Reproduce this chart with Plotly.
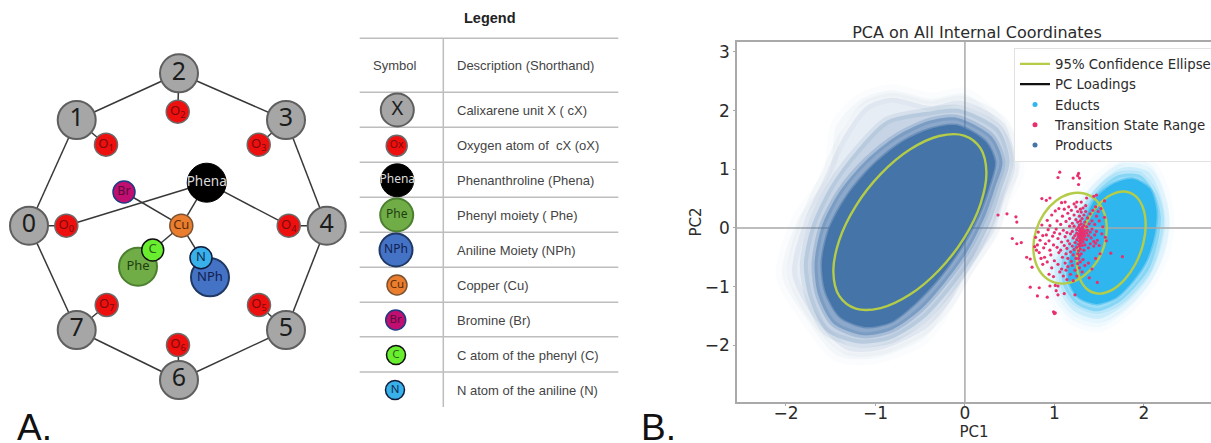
import plotly.graph_objects as go

# ---------- Panel B data (PC1, PC2) ----------
PRODUCTS_ELLIPSE_X = [0.24,0.175,-0.01,-0.288,-0.615,-0.942,-1.22,-1.405,-1.47,-1.405,-1.22,-0.942,-0.615,-0.288,-0.01,0.175,0.24]
PRODUCTS_ELLIPSE_Y = [0.95,1.358,1.575,1.567,1.336,0.917,0.373,-0.212,-0.75,-1.158,-1.375,-1.367,-1.136,-0.717,-0.173,0.412,0.95]
EDUCTS_ELLIPSE_X = [2.02,1.99,1.907,1.782,1.635,1.488,1.363,1.279,1.25,1.279,1.363,1.488,1.635,1.782,1.907,1.991,2.02]
EDUCTS_ELLIPSE_Y = [0.055,0.344,0.542,0.62,0.565,0.386,0.11,-0.22,-0.555,-0.844,-1.042,-1.12,-1.065,-0.886,-0.61,-0.28,0.055]
TS_ELLIPSE_X = [1.585,1.554,1.465,1.332,1.175,1.018,0.885,0.796,0.765,0.796,0.885,1.018,1.175,1.332,1.465,1.554,1.585]
TS_ELLIPSE_Y = [-0.012,0.266,0.476,0.587,0.583,0.463,0.246,-0.036,-0.338,-0.616,-0.826,-0.937,-0.933,-0.813,-0.596,-0.314,-0.012]

PRODUCTS_L1_X = [-0.824,-0.376,-0.01,0.275,0.519,0.60,0.437,0.275,-0.01,-0.213,-0.458,-1.027,-1.434,-1.80,-2.044,-1.882,-1.515,-1.434,-1.149,-0.824]
PRODUCTS_L1_Y = [2.347,2.205,2.29,1.977,1.466,0.955,0.443,-0.125,-0.807,-1.375,-1.886,-2.227,-2.17,-1.489,-0.807,0.102,0.955,1.75,2.205,2.347]
PRODUCTS_L2_X = [-0.04,0.44,0.56,0.44,0.33,0.05,-0.16,-0.44,-0.95,-1.32,-1.68,-1.93,-1.80,-1.56,-1.36,-1.10,-0.82,-0.38,-0.04]
PRODUCTS_L2_Y = [2.17,1.78,1.05,0.50,-0.05,-0.70,-1.25,-1.72,-2.08,-2.08,-1.55,-0.78,0.1,0.9,1.55,2.08,2.22,2.08,2.17]
PRODUCTS_L3_X = [-0.07,0.38,0.50,0.41,0.29,0.08,-0.19,-0.46,-0.83,-1.18,-1.55,-1.74,-1.80,-1.71,-1.50,-1.22,-0.87,-0.42,-0.07]
PRODUCTS_L3_Y = [2.03,1.68,1.14,0.66,0.12,-0.52,-1.10,-1.55,-1.90,-1.97,-1.76,-1.20,-0.62,0.05,0.72,1.30,1.83,1.98,2.03]
PRODUCTS_L4_X = [-0.09,0.30,0.42,0.34,0.22,0.02,-0.24,-0.50,-0.82,-1.14,-1.47,-1.64,-1.68,-1.60,-1.40,-1.10,-0.75,-0.39,-0.09]
PRODUCTS_L4_Y = [1.88,1.56,1.13,0.70,0.18,-0.42,-0.96,-1.40,-1.74,-1.83,-1.63,-1.14,-0.60,0.02,0.62,1.16,1.58,1.83,1.88]
PRODUCTS_CORE_X = [-0.09,0.234,0.336,0.275,0.153,-0.05,-0.295,-0.539,-0.824,-1.109,-1.393,-1.556,-1.597,-1.515,-1.312,-1.027,-0.702,-0.376,-0.09]
PRODUCTS_CORE_Y = [1.75,1.466,1.125,0.727,0.216,-0.352,-0.864,-1.261,-1.602,-1.688,-1.517,-1.091,-0.58,-0.011,0.557,1.068,1.466,1.693,1.75]

EDUCTS_L1_X = [1.546,1.806,2.067,2.216,2.29,2.235,2.067,1.806,1.508,1.21,0.987,0.931,1.024,1.21,1.546]
EDUCTS_L1_Y = [0.921,1.177,1.092,0.694,0.126,-0.442,-0.954,-1.408,-1.692,-1.579,-1.181,-0.726,-0.215,0.353,0.921]
EDUCTS_L2_X = [1.51,1.76,2.05,2.19,2.24,2.19,2.05,1.78,1.50,1.23,1.05,1.00,1.10,1.27,1.51]
EDUCTS_L2_Y = [0.76,1.03,0.96,0.55,0.10,-0.36,-0.86,-1.32,-1.55,-1.43,-1.07,-0.66,-0.22,0.28,0.76]
EDUCTS_L3_X = [1.49,1.71,1.96,2.12,2.19,2.16,2.05,1.74,1.48,1.25,1.10,1.08,1.18,1.30,1.49]
EDUCTS_L3_Y = [0.64,0.90,0.90,0.60,0.2,-0.22,-0.72,-1.25,-1.42,-1.30,-0.98,-0.60,-0.22,0.22,0.64]
EDUCTS_CORE_X = [1.471,1.657,1.881,2.067,2.141,2.123,2.03,1.881,1.695,1.471,1.266,1.155,1.166,1.248,1.341,1.471]
EDUCTS_CORE_Y = [0.524,0.751,0.836,0.666,0.296,-0.101,-0.556,-0.897,-1.181,-1.295,-1.181,-0.897,-0.556,-0.215,0.154,0.524]

TS_POINTS = [
 (1.06,.95),(1.04,.86),(1.27,.93),(1.26,.89),(1.28,.85),(1.21,.85),(1.27,.74),(.86,.50),(.91,.47),(.95,.51),(1.47,.56),(1.44,.54),(1.36,.51),(1.56,.46),(1.12,.44),(1.08,.43),(1.25,.44),(1.22,.41),(1.30,.44),(1.35,.38),
 (.37,.22),(.47,.24),(.57,.19),(.58,.10),(.53,-.18),(.58,-.27),(.63,-.25),(.69,-.50),(.73,-.53),(.75,-.67),(.73,-1.01),(.83,-1.02),(.81,-1.16),(.92,-1.18),(.95,-.99),(1.01,-.98),(1.04,-.99),(1.02,-1.07),(1.04,-1.14),(1.11,-1.12),(1.23,-1.14),(.99,-1.43),(1.01,-1.45),(1.0,-1.46),(1.76,-.49),(1.63,-.43),(1.48,-.93),(1.39,-.85),
 (.79,-.16),(.81,-.29),(.78,-.32),(.80,-.38),(.82,-.07),(.84,-.21),(.83,-.42),(.86,.05),(.87,-.13),(.88,-.34),(.85,-.52),(.89,-.50),(.87,-.62),(.92,-.58),(.90,-.27),(.91,-.12),(.93,-.03),(.92,.13),(.94,-.22),(.95,-.38),(.96,-.46),(.95,.04),(.97,.22),(.98,-.14),(.99,-.29),(.97,-.68),(.94,-.79),(1.0,-.08),(1.0,-.56),(.99,-.83),
 (1.01,.29),(1.03,.12),(1.02,-.02),(1.04,-.18),(1.03,-.33),(1.05,-.42),(1.04,-.62),(1.06,-.75),(1.05,.33),(1.07,.06),(1.06,-.10),(1.08,-.24),(1.07,-.38),(1.09,-.50),(1.08,-.70),(1.10,-.82),(1.09,.20),(1.11,.32),(1.10,-.04),(1.12,-.15),(1.11,-.30),(1.13,-.44),(1.12,-.60),(1.14,-.88),(1.13,.11),(1.15,.25),(1.14,-.08),(1.15,-.22),(1.14,-.35),(1.15,-.52),(1.13,-.72),(1.15,-.66),
 (1.16,.36),(1.17,.16),(1.17,.03),(1.18,-.10),(1.17,-.27),(1.18,-.41),(1.19,-.57),(1.18,-.79),(1.19,.30),(1.20,.08),(1.20,-.06),(1.21,-.17),(1.20,-.31),(1.21,-.46),(1.20,-.64),(1.21,-.90),(1.22,.22),(1.22,.03),(1.23,-.13),(1.23,-.25),(1.22,-.37),(1.24,-.52),(1.23,-.72),(1.24,.36),(1.24,.14),(1.25,-.03),(1.25,-.09),(1.25,-.20),(1.25,-.33),(1.26,-.44),(1.26,-.61),(1.25,-.82),(1.26,.28),(1.26,.10),(1.27,.01),(1.27,-.12),(1.27,-.16),(1.27,-.28),(1.27,-.39),(1.27,-.52),
 (1.28,.20),(1.28,.05),(1.28,-.05),(1.28,-.10),(1.28,-.14),(1.28,-.22),(1.28,-.31),(1.28,-.47),(1.28,-.68),(1.29,.32),(1.29,.12),(1.29,-.02),(1.29,-.07),(1.29,-.12),(1.29,-.18),(1.29,-.26),(1.29,-.36),(1.29,-.58),(1.30,.27),(1.30,.07),(1.30,-.04),(1.30,-.09),(1.30,-.15),(1.30,-.21),(1.30,-.44),(1.31,.16),(1.31,.01),(1.31,-.06),(1.31,-.11),(1.31,-.17),(1.31,-.30),(1.31,-.75),(1.32,.34),(1.32,-.02),(1.32,-.08),(1.32,-.13),(1.32,-.24),(1.32,-.54),(1.33,.22),(1.33,.04),(1.33,-.10),(1.33,-.19),(1.33,-.38),(1.34,.10),(1.34,-.05),(1.34,-.14),(1.34,-.29),(1.34,-.64),
 (1.35,.28),(1.36,.02),(1.36,-.09),(1.36,-.20),(1.37,.17),(1.37,-.04),(1.38,-.13),(1.38,-.34),(1.38,-.60),(1.39,.07),(1.40,.24),(1.40,-.07),(1.40,-.27),(1.41,-.17),(1.42,.12),(1.42,-.02),(1.43,.30),(1.44,-.23),(1.44,-.31),(1.45,.06),(1.45,-.12),(1.46,.36),(1.46,-.26),(1.47,.20),(1.47,-.06),(1.48,-.21),(1.49,.28),(1.50,.12),(1.50,-.30),(1.51,-.44),(1.52,.33),(1.53,-.10),(1.54,.02),(1.56,.18),(1.57,-.16),(1.58,-.22),(1.46,-.52),(1.42,-.70),
]

LEGEND_NAMES = ["95% Confidence Ellipse", "PC Loadings", "Educts", "Transition State Range", "Products"]
X_RANGE = [-2.547, 2.75]
Y_RANGE = [-2.968, 3.17]
X_TICKS = [-2, -1, 0, 1, 2]
Y_TICKS = [-2, -1, 0, 1, 2, 3]

# ---------- Panel A diagram (units of the diagram axis) ----------
NODE_NAMES = ["c0","c1","c2","c3","c4","c5","c6","c7","o0","o1","o2","o3","o4","o5","o6","o7","Phena","Br","Cu","Phe","C","NPh","N"]
NODE_X = [29,76.7,179,286,326.7,286,179,76.7,66.3,106,177.7,258.7,288.7,259,178,106.7,206.7,124,181.3,138,152.7,210,201]
NODE_Y = [225.7,120,73.3,120,225.7,330,380,330,225.7,144.7,111.7,144.7,225.7,305,345,305,182.7,192,225.7,266.7,250,277.3,257.7]
NODE_LABELS = ["0","1","2","3","4","5","6","7"] + [f"O<sub>{i}</sub>" for i in range(8)] + ["Phena","Br","Cu","Phe","C","NPh","N"]
EDGES = [("c0","c1"),("c1","c2"),("c2","c3"),("c3","c4"),("c4","c5"),("c5","c6"),("c6","c7"),("c7","c0"),
         ("c0","o0"),("c1","o1"),("c2","o2"),("c3","o3"),("c4","o4"),("c5","o5"),("c6","o6"),("c7","o7"),
         ("Phena","o0"),("Phena","o4"),("Phena","Cu"),("Br","Cu"),("Cu","C"),("Cu","N")]

# ---------- Legend table ----------
TABLE_TITLE = "Legend"
TABLE_HEAD = ["Symbol", "Description (Shorthand)"]
ROW_SYMBOLS = ["X","Ox","Phena","Phe","NPh","Cu","Br","C","N"]
ROW_TEXT = ["Calixarene unit X ( cX)","Oxygen atom of  cX (oX)","Phenanthroline (Phena)","Phenyl moiety ( Phe)","Aniline Moiety (NPh)","Copper (Cu)","Bromine (Br)","C atom of the phenyl (C)","N atom of the aniline (N)"]
ROW_Y = [110,145.7,180.3,215,250,285,320,355,390]
SYMBOL_X = [397.3,396.7,397.3,396.7,396,397,395.7,396,395]
RULE_Y = [38.3,92.3,127.3,162.3,197.3,232.3,267.3,302.3,336.7,372]
RULE_X = [359.7,618.3]
DIVIDER_X = [443.3,443.3]
DIVIDER_Y = [38.3,407]
PANEL_LETTERS = [("A.",15,427),("B.",639,427)]

# ---------- styles ----------
STY = {
 "c":("#a6a6a6","#5f5f5f",2,38,"#1c1c1c",25),
 "o":("#ee0f0f","#6b6b6b",1.5,23,"#7a0c0c",13),
 "Phena":("#000000","#000000",1,39,"#dcdcdc",13.5),
 "Br":("#c00f70","#1f3a80",1.5,22,"#5a0c3c",12.5),
 "Cu":("#ea7d2e","#7a5232",1.5,23,"#5a2c08",13),
 "Phe":("#70ad47","#4c7f30",2,38,"#1f3d10",13),
 "C":("#68ee2f","#101010",1.5,22,"#2c5f18",13),
 "NPh":("#4472c4","#1f3864",2,38,"#102050",13),
 "N":("#38b0ea","#101c3c",1.5,22,"#102c50",13),
}
STY_TAB = {"X":("#a6a6a6","#5f5f5f",2,33,"#1c1c1c",20),"Ox":("#ee0f0f","#6b6b6b",1.5,21,"#7a0c0c",10.5),
           "Phena":("#000000","#000000",1,33,"#dcdcdc",12),"Phe":("#70ad47","#4c7f30",2,33,"#1f3d10",12),"NPh":("#4472c4","#1f3864",2,33,"#102050",12),
           "Cu":("#ea7d2e","#7a5232",1.5,20,"#5a2c08",11.5),"Br":("#c00f70","#1f3a80",1.5,20,"#5a0c3c",11.5),"C":("#68ee2f","#101010",1.5,19,"#2c5f18",11.5),"N":("#38b0ea","#101c3c",1.5,19,"#102c50",11.5)}
def sty(name):
    if name[0] == "c" and len(name) == 2 and name != "Cu": return STY["c"]
    if name[0] == "o" and len(name) == 2: return STY["o"]
    return STY[name]

AX = "#a9a9a9"
TXT = "#2b2b2b"
SANS = "Liberation Sans"
LBL = "Noto Sans"
DJ = "DejaVu Sans"
PROD = "#4474a8"
EDU = "#2fb6ee"
TS = "#e8306e"
ELL = "#b4cc48"

fig = go.Figure()

def cloud(xs, ys, rgb, alpha, soft):
    fig.add_trace(go.Scatter(x=xs, y=ys, mode="lines", fill="toself", fillcolor=f"rgba({rgb},{alpha})",
                             line=dict(width=soft, shape="spline", smoothing=0.8, color=f"rgba({rgb},{alpha/2})"), showlegend=False, hoverinfo="skip"))

for xs, ys, a, s in [(EDUCTS_L1_X, EDUCTS_L1_Y, .05, 10), (EDUCTS_L2_X, EDUCTS_L2_Y, .14, 8), (EDUCTS_L3_X, EDUCTS_L3_Y, .35, 6), (EDUCTS_CORE_X, EDUCTS_CORE_Y, 1, 3)]:
    cloud(xs, ys, "47,182,238", a, s)

fig.add_trace(go.Scatter(x=X_RANGE, y=[0, 0], mode="lines", line=dict(color=AX, width=1.5), showlegend=False, hoverinfo="skip"))
fig.add_trace(go.Scatter(x=[0, 0], y=Y_RANGE, mode="lines", line=dict(color=AX, width=1.5), showlegend=False, hoverinfo="skip"))

for xs, ys, a, s in [(PRODUCTS_L1_X, PRODUCTS_L1_Y, .04, 12), (PRODUCTS_L2_X, PRODUCTS_L2_Y, .09, 10), (PRODUCTS_L3_X, PRODUCTS_L3_Y, .20, 8), (PRODUCTS_L4_X, PRODUCTS_L4_Y, .45, 6), (PRODUCTS_CORE_X, PRODUCTS_CORE_Y, 1, 3)]:
    cloud(xs, ys, "68,116,168", a, s)

for xs, ys in [(PRODUCTS_ELLIPSE_X, PRODUCTS_ELLIPSE_Y), (EDUCTS_ELLIPSE_X, EDUCTS_ELLIPSE_Y), (TS_ELLIPSE_X, TS_ELLIPSE_Y)]:
    fig.add_trace(go.Scatter(x=xs, y=ys, mode="lines", line=dict(color=ELL, width=2.4, shape="spline", smoothing=1), showlegend=False, hoverinfo="skip"))

fig.add_trace(go.Scatter(x=[p[0] for p in TS_POINTS], y=[p[1] for p in TS_POINTS], mode="markers",
                         marker=dict(color=TS, size=3.2), showlegend=False, hoverinfo="skip"))

# legend entries
fig.add_trace(go.Scatter(x=[None], y=[None], mode="lines", name=LEGEND_NAMES[0], line=dict(color=ELL, width=2.4)))
fig.add_trace(go.Scatter(x=[None], y=[None], mode="lines", name=LEGEND_NAMES[1], line=dict(color="#111111", width=2.4)))
for n, c in zip(LEGEND_NAMES[2:], [EDU, TS, PROD]):
    fig.add_trace(go.Scatter(x=[None], y=[None], mode="markers", name=n, marker=dict(color=c, size=5)))

# diagram
pos = dict(zip(NODE_NAMES, zip(NODE_X, NODE_Y)))
ex, ey = [], []
for a, b in EDGES:
    ex += [pos[a][0], pos[b][0], None]
    ey += [pos[a][1], pos[b][1], None]
fig.add_trace(go.Scatter(x=ex, y=ey, xaxis="x2", yaxis="y2", mode="lines", line=dict(color="#383838", width=1.5), showlegend=False, hoverinfo="skip"))

def nodes(xs, ys, labels, st):
    fig.add_trace(go.Scatter(x=xs, y=ys, xaxis="x2", yaxis="y2", mode="markers+text", text=labels, textposition="middle center",
        marker=dict(color=[s[0] for s in st], line=dict(color=[s[1] for s in st], width=[s[2] for s in st]), size=[s[3] for s in st], opacity=1),
        textfont=dict(color=[s[4] for s in st], size=[s[5] for s in st], family=LBL), showlegend=False, hoverinfo="skip"))

nodes(NODE_X, NODE_Y, NODE_LABELS, [sty(k) for k in NODE_NAMES])

# table rules
rx, ry = [], []
for y in RULE_Y:
    rx += [RULE_X[0], RULE_X[1], None]
    ry += [y, y, None]
rx += DIVIDER_X + [None]
ry += DIVIDER_Y + [None]
fig.add_trace(go.Scatter(x=rx, y=ry, xaxis="x2", yaxis="y2", mode="lines", line=dict(color="#bdbdbd", width=1.5), showlegend=False, hoverinfo="skip"))
nodes(SYMBOL_X, ROW_Y, ROW_SYMBOLS, [STY_TAB[k] for k in ROW_SYMBOLS])

anns = []
def ann(text, x, y, size, color=TXT, family=SANS, xanchor="left"):
    anns.append(dict(text=text, x=x, y=y, xref="x2", yref="y2", xanchor=xanchor, yanchor="middle", showarrow=False,
                     font=dict(size=size, color=color, family=family)))
ann(f"<b>{TABLE_TITLE}</b>", 490, 17.5, 14.5, "#222222", SANS, "center")
ann(TABLE_HEAD[0], 394, 65, 13, "#444444", SANS, "center")
ann(TABLE_HEAD[1], 454.7, 65, 13, "#444444")
for t, y in zip(ROW_TEXT, ROW_Y):
    ann(t, 454.7, y, 13, "#444444")
for t, x, y in PANEL_LETTERS:
    ann(t, x, y, 37, "#111111")

W, H = 1211, 443
fig.update_layout(
    width=W, height=H, autosize=False, margin=dict(l=0, r=0, t=0, b=0, autoexpand=False), paper_bgcolor="white", plot_bgcolor="rgba(0,0,0,0)",
    font=dict(family=DJ, color=TXT),
    title=dict(text="PCA on All Internal Coordinates", x=977/W, xanchor="center", y=1-32/H, yanchor="middle", font=dict(size=16, family=DJ, color=TXT)),
    xaxis=dict(domain=[737/W, 1], range=X_RANGE, tickvals=X_TICKS, tickfont=dict(size=17), showgrid=False, zeroline=False,
               showline=True, mirror=True, linecolor=AX, linewidth=1.5, ticks="outside", ticklen=2, tickcolor=AX, ticklabelstandoff=-7,
               title=dict(text="PC1", font=dict(size=15), standoff=2), anchor="y"),
    yaxis=dict(domain=[1-402/H, 1-42/H], range=Y_RANGE, tickvals=Y_TICKS, tickfont=dict(size=17), showgrid=False, zeroline=False,
               showline=True, linecolor=AX, linewidth=1.5, ticks="outside", ticklen=2, tickcolor=AX,
               title=dict(text="PC2", font=dict(size=15), standoff=0), anchor="x"),
    xaxis2=dict(domain=[0, 1], range=[0, W], visible=False, anchor="y2", fixedrange=True),
    yaxis2=dict(domain=[0, 1], range=[H, 0], visible=False, anchor="x2", fixedrange=True),
    legend=dict(x=1014/W, y=1-47.7/H, xanchor="left", yanchor="top", bgcolor="rgba(255,255,255,0.9)", bordercolor="#e2e2e2", borderwidth=1,
                font=dict(size=13.3, family=DJ, color=TXT)),
    annotations=anns,
)
fig.write_html("out.html", default_width="1211px", default_height="443px",
               config=dict(responsive=False, displayModeBar=False),
               post_script="document.body.style.margin='0';document.body.style.overflow='hidden';Plotly.relayout(document.getElementById('{plot_id}'),{width:1211,height:443});")
